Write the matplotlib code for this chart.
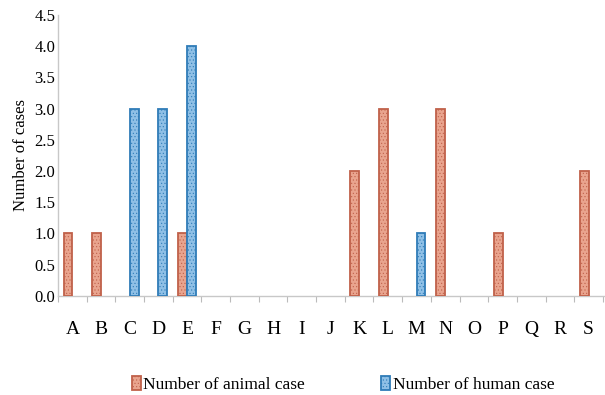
import numpy as np
import matplotlib
matplotlib.use('Agg')
import matplotlib.pyplot as plt

categories = ['A', 'B', 'C', 'D', 'E', 'F', 'G', 'H', 'I', 'J',
              'K', 'L', 'M', 'N', 'O', 'P', 'Q', 'R', 'S']
animal_cases = [1, 1, 0, 0, 1, 0, 0, 0, 0, 0, 2, 3, 0, 3, 0, 1, 0, 0, 2]
human_cases = [0, 0, 3, 3, 4, 0, 0, 0, 0, 0, 0, 0, 1, 0, 0, 0, 0, 0, 0]
y_ticks = [0.0, 0.5, 1.0, 1.5, 2.0, 2.5, 3.0, 3.5, 4.0, 4.5]

plt.rcParams['font.family'] = ['Liberation Serif', 'DejaVu Serif']
plt.rcParams['hatch.linewidth'] = 0.4

fig = plt.figure(figsize=(6.05, 3.95), dpi=100)
ax = fig.add_axes([0.096, 0.251, 0.91, 0.711])

x = np.arange(len(categories))
w = 0.31
animal = np.array(animal_cases, dtype=float)
human = np.array(human_cases, dtype=float)
# skip empty bars so no flat lines show at zero
ma = animal > 0
mh = human > 0
ax.bar(x[ma] - w / 2, animal[ma], w, facecolor='#E9A48E', edgecolor='#C0614A',
       hatch='.....', linewidth=1.3, label='Number of animal case', zorder=3)
ax.bar(x[mh] + w / 2, human[mh], w, facecolor='#8FC0E6', edgecolor='#2F7CB8',
       hatch='.....', linewidth=1.3, label='Number of human case', zorder=3)

ax.set_xlim(-0.5, len(categories) - 0.5 + 0.2)
ax.set_ylim(0, 4.5)
ax.set_yticks(y_ticks)
ax.set_yticklabels(['%.1f' % v for v in y_ticks], fontsize=12)
ax.tick_params(axis='y', length=0, pad=2)

ax.set_xticks(np.arange(len(categories) + 1) - 0.5)
ax.set_xticklabels([])
ax.set_xticks(x, minor=True)
ax.set_xticklabels(categories, minor=True, fontsize=14)
ax.tick_params(axis='x', which='major', length=4, color='#bbbbbb', direction='out')
ax.tick_params(axis='x', which='minor', length=0, pad=18)

for s in ['top', 'right']:
    ax.spines[s].set_visible(False)
for s in ['left', 'bottom']:
    ax.spines[s].set_color('#c8c8c8')
    ax.spines[s].set_linewidth(1.0)

ax.set_ylabel('Number of cases', fontsize=12, labelpad=4)

fig.legend(loc='lower center', bbox_to_anchor=(0.567, -0.035), ncol=2, frameon=False,
           fontsize=12.5, handlelength=0.5, handleheight=0.9, handletextpad=0.15,
           columnspacing=4.4)

fig.savefig('out.png', dpi=100)
